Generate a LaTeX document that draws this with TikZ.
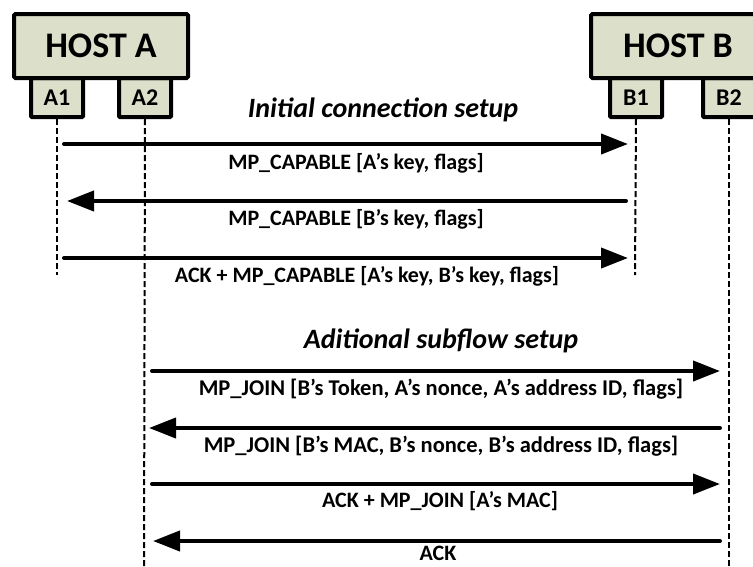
\documentclass[tikz,border=0pt]{standalone}
\usepackage{fontspec}
\setmainfont{Carlito}
\usetikzlibrary{arrows.meta,positioning}
\definecolor{boxfill}{HTML}{DCE0CB}

\begin{document}
\begin{tikzpicture}[x=1pt,y=-1pt,
  hostbox/.style={draw,fill=boxfill,line width=4pt,rounded corners=1.5pt,minimum width=174pt,minimum height=64pt,inner sep=0pt,font=\fontsize{36}{40}\selectfont\bfseries},
  subbox/.style={draw,fill=boxfill,line width=4pt,rounded corners=1pt,minimum width=52pt,minimum height=39pt,inner sep=0pt,font=\fontsize{24}{26}\selectfont\bfseries},
  lifeline/.style={line width=2pt,dash pattern=on 6pt off 3pt},
  msg/.style={line width=4pt,line cap=round,-{Triangle[length=27pt,width=20pt]}},
  msglabel/.style={inner sep=0pt,font=\fontsize{22}{24}\selectfont\bfseries},
  phase/.style={inner sep=0pt,font=\fontsize{28}{30}\selectfont\bfseries\itshape}]
\useasboundingbox (0,0) rectangle (753,566);
\clip (0,0) rectangle (753,566);

%Hosts
\node[subbox] (A1) at (57,97.5) {A1};
\node[subbox] (A2) at (145,97.5) {A2};
\node[subbox] (B1) at (636,97.5) {B1};
\node[subbox] (B2) at (729,97.5) {B2};
\node[hostbox] (hostA) at (101,46) {HOST A};
\node[hostbox] (hostB) at (678,46) {HOST B};

%Lifelines
\coordinate (A1end) at (57,275);
\coordinate (A2end) at (144,566);
\coordinate (B1end) at (635,275);
\coordinate (B2end) at (729,566);
\draw[lifeline] (A1.south) -- (A1end);
\draw[lifeline] (A2.south) -- (A2end);
\draw[lifeline] (B1.south) -- (B1end);
\draw[lifeline] (B2.south) -- (B2end);

% Initial connection setup
\node[phase] (initial) at (383,110) {Initial connection setup};
\foreach \y/\n in {144/1,201/2,258/3}{
  \coordinate (a\n) at (64,\y);
  \coordinate (b\n) at (628,\y);
}
\coordinate (a2tip) at (67,201);
\coordinate (b2start) at (626,201);
\draw[msg] (a1) -- (b1);
\draw[msg] (b2start) -- (a2tip);
\draw[msg] (a3) -- (b3);
\node[msglabel] (cap1) at (356,163) {MP\_CAPABLE [A’s key, flags]};
\node[msglabel] (cap2) at (356,219) {MP\_CAPABLE [B’s key, flags]};
\node[msglabel] (cap3) at (367,276) {ACK + MP\_CAPABLE [A’s key, B’s key, flags]};

% Aditional subflow setup
\node[phase] (subflow) at (441,341) {Aditional subflow setup};
\foreach \y/\n in {371/4,428/5,484/6,541/7}{
  \coordinate (a\n) at (152,\y);
  \coordinate (b\n) at (720,\y);
}
\coordinate (a5tip) at (149,428);
\coordinate (a7tip) at (153,541);
\draw[msg] (a4) -- (b4);
\draw[msg] (b5) -- (a5tip);
\draw[msg] (a6) -- (b6);
\draw[msg] (b7) -- (a7tip);
\node[msglabel,font=\fontsize{22.5}{24}\selectfont\bfseries] (join1) at (441,389) {MP\_JOIN [B’s Token, A’s nonce, A’s address ID, flags]};
\node[msglabel,font=\fontsize{22.5}{24}\selectfont\bfseries] (join2) at (441,446) {MP\_JOIN [B’s MAC, B’s nonce, B’s address ID, flags]};
\node[msglabel] (join3) at (440,501) {ACK + MP\_JOIN [A’s MAC]};
\node[msglabel] (join4) at (438,553) {ACK};

\end{tikzpicture}
\end{document}
